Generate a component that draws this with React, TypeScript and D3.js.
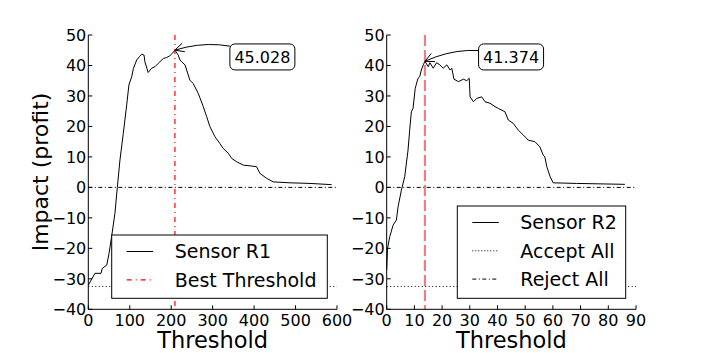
import React from 'react'
import * as d3 from 'd3'

// sensor R1: threshold vs impact
const r1Threshold = [0, 16, 30.7, 33.6, 44.5, 50, 56.4, 64.3, 70, 76.4, 84.4, 92.6, 98, 104.7, 108.8, 116.7, 123.3, 128.6, 134.5, 136.5, 141.4, 144.4, 152.9, 160.9, 168.9, 181, 189, 196.8, 202.7, 209, 217, 221, 225.3, 233.4, 245, 253, 265, 277.4, 285.6, 293.5, 305.6, 317.5, 325.4, 337.7, 346, 358, 374, 394, 406, 414, 430, 446, 486.6, 535, 587]
const r1Impact = [-32.1, -28.2, -28.2, -26.6, -25.5, -21.7, -16, -8.5, 0, 9, 17.7, 27, 33.6, 36.3, 39, 41.8, 42.9, 43.7, 43.4, 41.2, 39.1, 37.7, 39.1, 39.6, 40.7, 42.3, 42.6, 43.2, 44, 45.028, 43.4, 41.8, 41.2, 40.2, 35.2, 34.1, 30.9, 26.5, 23.2, 19.9, 16.6, 14.4, 12.8, 11.2, 9.5, 8.4, 7.3, 7.0, 6.8, 4.6, 3.0, 1.8, 1.5, 1.3, 0.9]

// sensor R2: threshold vs impact
const r2Threshold = [0, 0.3, 1.1, 2.3, 3.5, 4.1, 5.3, 6.5, 7.7, 8.3, 8.9, 9.5, 10.3, 11.3, 11.9, 12.5, 13.2, 13.8, 15, 15.6, 16.8, 18, 19.2, 20.4, 21.7, 22.9, 23.5, 24.3, 25.9, 27.7, 28.9, 29.8, 30.1, 31.3, 32.5, 34.3, 35.5, 37.3, 39.1, 40.3, 42.7, 43.9, 45.7, 47.5, 49.3, 51.1, 53.5, 55.3, 56.5, 57.1, 57.8, 59, 60.1, 68.6, 86]
const r2Impact = [-27, -20, -16.2, -12.4, -10.7, -6.4, -0.9, 3.5, 12.2, 18.8, 24.8, 25.9, 32.5, 35.8, 36.3, 38.5, 40.2, 41.374, 39.6, 40.9, 39.1, 40.9, 40.2, 39.1, 40.2, 38.5, 39.1, 35.5, 34.7, 35.5, 35, 35.8, 29.7, 28.1, 29.2, 29.7, 28.1, 27.6, 26.5, 25.9, 24.8, 22.1, 21, 18.8, 17.2, 15.5, 15, 13.3, 10.6, 10, 6.8, 3.5, 1.5, 1.3, 1.0]

const yTicks = [-40, -30, -20, -10, 0, 10, 20, 30, 40, 50]
const r1XTicks = [0, 100, 200, 300, 400, 500, 600]
const r2XTicks = [0, 10, 20, 30, 40, 50, 60, 70, 80, 90]

const acceptAll = -32.5
const rejectAll = 0
const r1Best = { x: 209, y: 45.028 }
const r2Best = { x: 13.8, y: 41.374 }

const FONT = 'DejaVu Sans, sans-serif'
const TOP = 35
const BOTTOM = 309.3

type Item = { label: string; color: string; dash?: string; width?: number }

function Panel(props: {
  x0: number
  x1: number
  xMax: number
  xTicks: number[]
  xs: number[]
  ys: number[]
  best: { x: number; y: number }
  bestColor: string
  bestDash: string
  bestWidth: number
  showBestLine: boolean
  note: { x: number; y: number }
  legend: Item[]
  legendBox: { x: number; y: number; w: number; h: number }
}) {
  const { x0, x1, xMax, xTicks, xs, ys, best, note, legend, legendBox } = props
  const x = d3.scaleLinear().domain([0, xMax]).range([x0, x1])
  const y = d3.scaleLinear().domain([-40, 50]).range([BOTTOM, TOP])
  const line = d3.line<number>().x((_, i) => x(xs[i])).y((d) => y(d))
  const path = line(ys) || ''

  // annotation arrow (arc from note centre to best point)
  const sx = x(note.x), sy = y(note.y)
  const ex = x(best.x), ey = y(best.y)
  const dx = ex - sx, dy = ey - sy
  const rad = 0.2
  const cx = (sx + ex) / 2 - rad * dy
  const cy = (sy + ey) / 2 + rad * dx
  const tx = ex - cx, ty = ey - cy
  const tl = Math.hypot(tx, ty)
  const ux = tx / tl, uy = ty / tl
  const hl = 9, hw = 4.5
  const head = `M${ex - ux * hl - uy * hw},${ey - uy * hl + ux * hw}L${ex},${ey}L${ex - ux * hl + uy * hw},${ey - uy * hl - ux * hw}`
  const boxW = 65, boxH = 26

  return (
    <g>
      <path d={path} fill="none" stroke="#000" strokeWidth={1} />
      <line x1={x0} x2={x1} y1={y(acceptAll)} y2={y(acceptAll)} stroke="#000" strokeWidth={1} strokeDasharray="1,2.5" />
      <line x1={x0} x2={x1} y1={y(rejectAll)} y2={y(rejectAll)} stroke="#000" strokeWidth={1} strokeDasharray="4,2.5,1,2.5" />
      <line x1={x(best.x)} x2={x(best.x)} y1={TOP} y2={BOTTOM} stroke={props.bestColor} strokeWidth={props.bestWidth} strokeDasharray={props.bestDash} />
      {/* spines */}
      <line x1={x0} x2={x0} y1={TOP} y2={BOTTOM} stroke="#000" strokeWidth={1} />
      <line x1={x0} x2={x1} y1={BOTTOM} y2={BOTTOM} stroke="#000" strokeWidth={1} />
      {yTicks.map((t) => (
        <g key={'y' + t}>
          <line x1={x0} x2={x0 + 4} y1={y(t)} y2={y(t)} stroke="#000" />
          <text x={x0 - 2} y={y(t)} dy="0.36em" textAnchor="end" fontSize={16} fontFamily={FONT}>
            {t < 0 ? '\u2212' + Math.abs(t) : t}
          </text>
        </g>
      ))}
      {xTicks.map((t) => (
        <g key={'x' + t}>
          <line x1={x(t)} x2={x(t)} y1={BOTTOM} y2={BOTTOM - 4} stroke="#000" />
          <text x={x(t)} y={325.5} textAnchor="middle" fontSize={16} fontFamily={FONT}>
            {t}
          </text>
        </g>
      ))}
      <text x={(x0 + x1) / 2} y={348} textAnchor="middle" fontSize={22.5} fontFamily={FONT}>
        Threshold
      </text>
      {/* annotation */}
      <path d={`M${sx},${sy}Q${cx},${cy} ${ex},${ey}`} fill="none" stroke="#000" strokeWidth={1} />
      <path d={head} fill="none" stroke="#000" strokeWidth={1} />
      <rect x={sx - boxW / 2} y={sy - boxH / 2} width={boxW} height={boxH} rx={5} fill="#fff" stroke="#000" strokeWidth={1} />
      <text x={sx} y={sy} dy="0.36em" textAnchor="middle" fontSize={16} fontFamily={FONT}>
        {best.y.toFixed(3)}
      </text>
      {/* legend */}
      <rect x={legendBox.x} y={legendBox.y} width={legendBox.w} height={legendBox.h} fill="#fff" stroke="#000" strokeWidth={1} />
      {legend.map((it, i) => {
        const ly = legendBox.y + 16.5 + i * 28.3
        return (
          <g key={it.label}>
            <line x1={legendBox.x + 15} x2={legendBox.x + 41.5} y1={ly} y2={ly} stroke={it.color} strokeWidth={it.width || 1} strokeDasharray={it.dash} />
            <text x={legendBox.x + 63} y={ly} dy="0.36em" fontSize={19} fontFamily={FONT}>
              {it.label}
            </text>
          </g>
        )
      })}
    </g>
  )
}

export default function App() {
  return (
    <svg width={706} height={353} style={{ position: 'absolute', left: 0, top: 0, background: '#fff' }}>
      <rect width={706} height={353} fill="#fff" />
      <text transform="translate(40,172) rotate(-90)" textAnchor="middle" dy="0.36em" fontSize={22} fontFamily={FONT}>
        Impact (profit)
      </text>
      <Panel
        x0={88.3}
        x1={337}
        xMax={600}
        xTicks={r1XTicks}
        xs={r1Threshold}
        ys={r1Impact}
        best={r1Best}
        bestColor="#ff0000"
        bestDash="5,4,1,4"
        bestWidth={1.2}
        showBestLine
        note={{ x: 420, y: 42.8 }}
        legend={[
          { label: 'Sensor R1', color: '#000' },
          { label: 'Best Threshold', color: '#ff0000', dash: '5,4,1,4', width: 1.2 },
        ]}
        legendBox={{ x: 111.7, y: 235, w: 215.6, h: 63.3 }}
      />
      <Panel
        x0={386.7}
        x1={636}
        xMax={90}
        xTicks={r2XTicks}
        xs={r2Threshold}
        ys={r2Impact}
        best={r2Best}
        bestColor="rgba(230,40,40,0.6)"
        bestDash="11,4"
        bestWidth={2.2}
        showBestLine
        note={{ x: 44.9, y: 42.8 }}
        legend={[
          { label: 'Sensor R2', color: '#000' },
          { label: 'Accept All', color: '#000', dash: '1,2' },
          { label: 'Reject All', color: '#000', dash: '4,2.5,1,2.5' },
        ]}
        legendBox={{ x: 457.3, y: 206, w: 168.4, h: 92.3 }}
      />
    </svg>
  )
}
